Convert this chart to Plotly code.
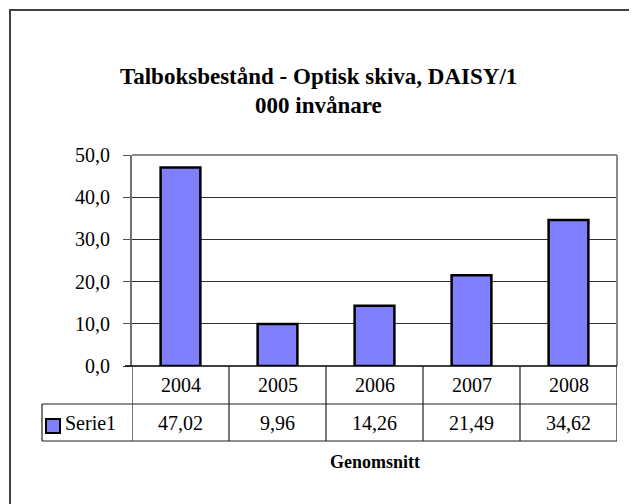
import plotly.graph_objects as go

# ---- data ----
categories = ["2004", "2005", "2006", "2007", "2008"]
values = [47.02, 9.96, 14.26, 21.49, 34.62]
value_labels = ["47,02", "9,96", "14,26", "21,49", "34,62"]
series_name = "Serie1"
title_lines = ["Talboksbestånd - Optisk skiva, DAISY/1", "000 invånare"]
x_title = "Genomsnitt"
y_ticks = [0, 10, 20, 30, 40, 50]

OFF = 8                      # page body margin
W, H = 637 - OFF, 504 - OFF  # figure size
L, R, T, B = 132, 617, 155, 366  # plot area in window pixels
pw, ph = R - L, B - T

def px(x):
    return (x - L) / pw

def py(y):
    return (B - y) / ph

FONT = "Liberation Serif, Times New Roman, serif"
BAR = "#8080FF"
FS = 20

idx = list(range(len(categories)))

fig = go.Figure()
fig.add_trace(go.Bar(
    x=idx, y=values, width=0.41,
    marker=dict(color=BAR, line=dict(color="black", width=2.5)),
    showlegend=False,
))

fig.update_layout(
    width=W, height=H,
    margin=dict(l=L - OFF, r=W - (R - OFF), t=T - OFF, b=H - (B - OFF), pad=0),
    paper_bgcolor="white", plot_bgcolor="white",
    separators=", ",
    font=dict(family=FONT, color="black", size=FS),
)

fig.update_yaxes(
    range=[0, 50], tickvals=y_ticks, tickformat=".1f",
    showgrid=True, gridcolor="#303030", gridwidth=1,
    showline=True, linecolor="#707070", linewidth=2,
    ticks="outside", ticklen=7, tickcolor="#505050", tickwidth=1,
    ticklabelstandoff=9,
    tickfont=dict(family=FONT, size=FS, color="black"),
    zeroline=False, fixedrange=True,
)
fig.update_xaxes(
    type="linear", showticklabels=False, showgrid=False, zeroline=False,
    showline=False, ticks="", range=[-0.5, len(categories) - 0.5], fixedrange=True,
)

shapes = []
# outer chart frame (only left/top visible)
shapes.append(dict(type="rect", xref="paper", yref="paper",
                   x0=px(10), x1=px(700), y0=py(560), y1=py(10),
                   line=dict(color="#404040", width=2), layer="below"))
# plot area border top/right (gray)
shapes.append(dict(type="line", xref="paper", yref="paper",
                   x0=0, x1=1, y0=1, y1=1, line=dict(color="#8a8a8a", width=2)))
shapes.append(dict(type="line", xref="paper", yref="paper",
                   x0=1, x1=1, y0=0, y1=1, line=dict(color="#8a8a8a", width=2)))

row1 = py(404)
row2 = py(441)
tbl_left = px(42)
tcol = "#202020"
# x axis line (top of table)
shapes.append(dict(type="line", xref="paper", yref="paper",
                   x0=px(125), x1=1, y0=0, y1=0, line=dict(color="black", width=1.5)))
for yy in (row1, row2):
    shapes.append(dict(type="line", xref="paper", yref="paper",
                       x0=tbl_left, x1=1, y0=yy, y1=yy, line=dict(color=tcol, width=1.2)))
for i in range(len(categories) + 1):
    shapes.append(dict(type="line", xref="x", yref="paper",
                       x0=i - 0.5, x1=i - 0.5, y0=row2, y1=0,
                       line=dict(color=tcol, width=1.2)))
shapes.append(dict(type="line", xref="paper", yref="paper",
                   x0=tbl_left, x1=tbl_left, y0=row2, y1=row1,
                   line=dict(color=tcol, width=1.2)))
# legend key
shapes.append(dict(type="rect", xref="paper", yref="paper",
                   x0=px(46), x1=px(60), y0=py(433), y1=py(419),
                   fillcolor=BAR, line=dict(color="black", width=2)))
fig.update_layout(shapes=shapes)

ann = []
mid1 = (0 + row1) / 2
mid2 = (row1 + row2) / 2
for i, c, v in zip(idx, categories, value_labels):
    ann.append(dict(x=i, xref="x", y=mid1, yref="paper", text=c, showarrow=False,
                    xanchor="center", yanchor="middle",
                    font=dict(family=FONT, size=FS, color="black")))
    ann.append(dict(x=i, xref="x", y=mid2, yref="paper", text=v, showarrow=False,
                    xanchor="center", yanchor="middle",
                    font=dict(family=FONT, size=FS, color="black")))
ann.append(dict(x=px(63), xref="paper", y=mid2, yref="paper", text=series_name,
                showarrow=False, xanchor="left", yanchor="middle",
                font=dict(family=FONT, size=FS, color="black")))
ann.append(dict(x=0.5, xref="paper", y=py(462), yref="paper", text="<b>" + x_title + "</b>",
                showarrow=False, xanchor="center", yanchor="middle",
                font=dict(family=FONT, size=18, color="black")))
for line, yy in zip(title_lines, (77, 106)):
    ann.append(dict(x=px(318), xref="paper", y=py(yy), yref="paper", text="<b>" + line + "</b>",
                    showarrow=False, xanchor="center", yanchor="middle",
                    font=dict(family=FONT, size=23, color="black")))
fig.update_layout(annotations=ann)

fig.write_html("out.html")
